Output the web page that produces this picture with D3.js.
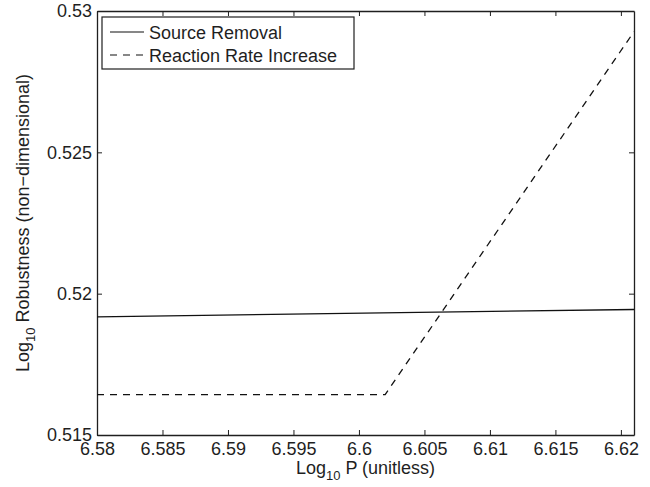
<!DOCTYPE html>
<html>
<head>
<meta charset="utf-8">
<title>Log10 Robustness vs Log10 P</title>
<script src="https://cdn.jsdelivr.net/npm/d3@7"></script>
<style>
  body { margin: 0; background: #fff; }
  svg text { font-family: "Liberation Sans", Arial, Helvetica, sans-serif; fill: #1f1f1f; }
</style>
</head>
<body>
<div id="chart"></div>
<script>
// data
var sourceRemovalP = [6.58, 6.621];
var sourceRemovalR = [0.51918, 0.51944];
var reactionRateP = [6.58, 6.602, 6.621];
var reactionRateR = [0.51643, 0.51643, 0.52927];

var xTicks = [6.58, 6.585, 6.59, 6.595, 6.6, 6.605, 6.61, 6.615, 6.62];
var yTicks = [0.515, 0.52, 0.525, 0.53];
var seriesNames = ["Source Removal", "Reaction Rate Increase"];

var W = 650, H = 487;
var margin = {top: 11, right: 16, bottom: 52, left: 97};
var width = W - margin.left - margin.right,
    height = H - margin.top - margin.bottom;

var ink = "#1f1f1f";

var svg = d3.select("#chart").append("svg")
    .attr("width", W).attr("height", H);

var g = svg.append("g")
    .attr("transform", "translate(" + margin.left + "," + margin.top + ")");

var x = d3.scaleLinear().domain([6.58, 6.621]).range([0, width]);
var y = d3.scaleLinear().domain([0.515, 0.53]).range([height, 0]);

var fmt = function(d) { return String(+d.toFixed(3)); };

// axes (box on, ticks pointing inward like matlab)
var gx = g.append("g").attr("transform", "translate(0," + height + ")")
    .call(d3.axisBottom(x).tickValues(xTicks).tickFormat(fmt)
        .tickSizeInner(-5).tickSizeOuter(0).tickPadding(7));
var gxTop = g.append("g")
    .call(d3.axisTop(x).tickValues(xTicks).tickFormat("")
        .tickSizeInner(-5).tickSizeOuter(0));
var gy = g.append("g")
    .call(d3.axisLeft(y).tickValues(yTicks).tickFormat(fmt)
        .tickSizeInner(-5).tickSizeOuter(0).tickPadding(5));
var gyRight = g.append("g").attr("transform", "translate(" + width + ",0)")
    .call(d3.axisRight(y).tickValues(yTicks).tickFormat("")
        .tickSizeInner(-5).tickSizeOuter(0));

[gx, gxTop, gy, gyRight].forEach(function(a) {
    a.select(".domain").attr("stroke", ink).attr("stroke-width", 1.3);
    a.selectAll(".tick line").attr("stroke", ink).attr("stroke-width", 1);
    a.selectAll(".tick text").attr("font-size", 18).attr("fill", ink)
        .attr("font-family", "Liberation Sans, Arial, sans-serif");
});

// lines
var line = d3.line().x(function(d) { return x(d[0]); }).y(function(d) { return y(d[1]); });

g.append("path")
    .datum(d3.zip(sourceRemovalP, sourceRemovalR))
    .attr("fill", "none").attr("stroke", "#111").attr("stroke-width", 1.3)
    .attr("d", line);

g.append("path")
    .datum(d3.zip(reactionRateP, reactionRateR))
    .attr("fill", "none").attr("stroke", "#111").attr("stroke-width", 1.3)
    .attr("stroke-dasharray", "7,6")
    .attr("d", line);

// legend
var leg = g.append("g").attr("transform", "translate(5,6)");
leg.append("rect").attr("width", 252).attr("height", 52)
    .attr("fill", "#fff").attr("stroke", ink).attr("stroke-width", 1.2);
seriesNames.forEach(function(name, i) {
    var yy = 15 + i * 23;
    leg.append("line").attr("x1", 8).attr("x2", 42).attr("y1", yy).attr("y2", yy)
        .attr("stroke", "#111").attr("stroke-width", 1.2)
        .attr("stroke-dasharray", i === 1 ? "7,6" : null);
    leg.append("text").attr("x", 47).attr("y", yy + 6.5)
        .attr("font-size", 18).text(name);
});

// axis labels
var xl = svg.append("text")
    .attr("x", margin.left + width / 2).attr("y", 474)
    .attr("text-anchor", "middle").attr("font-size", 18);
xl.append("tspan").text("Log");
xl.append("tspan").attr("font-size", 13).attr("dy", 6).text("10");
xl.append("tspan").attr("dy", -6).text(" P (unitless)");

var yl = svg.append("text")
    .attr("transform", "translate(29," + (margin.top + height / 2) + ") rotate(-90)")
    .attr("text-anchor", "middle").attr("font-size", 18);
yl.append("tspan").text("Log");
yl.append("tspan").attr("font-size", 13).attr("dy", 6).text("10");
yl.append("tspan").attr("dy", -6).text(" Robustness (non\u2212dimensional)");
</script>
</body>
</html>
